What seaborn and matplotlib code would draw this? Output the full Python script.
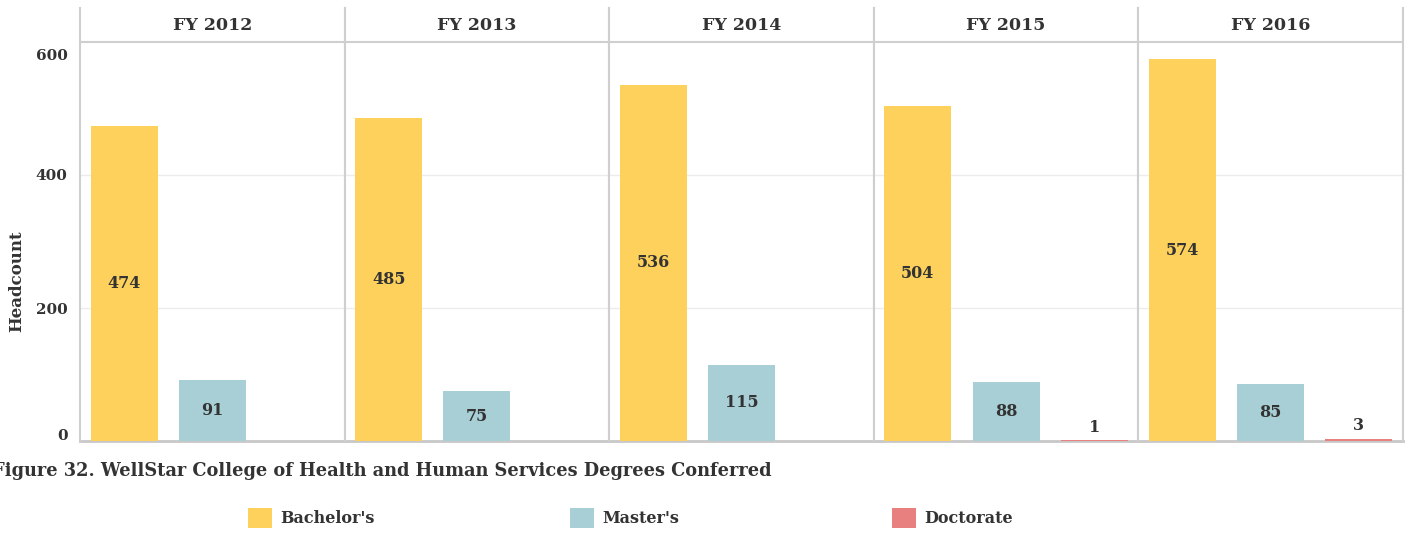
import numpy as np
import pandas as pd
import seaborn as sns
import matplotlib.pyplot as plt
import matplotlib.transforms as mtransforms
from matplotlib.patches import Patch

# Data
years = ["FY 2012", "FY 2013", "FY 2014", "FY 2015", "FY 2016"]
degrees = ["Bachelor's", "Master's", "Doctorate"]
bachelors = [474, 485, 536, 504, 574]
masters = [91, 75, 115, 88, 85]
doctorate = [0, 0, 0, 1, 3]
colors = {"Bachelor's": "#FDD15C", "Master's": "#A7CFD5", "Doctorate": "#E88080"}
title = "Figure 32. WellStar College of Health and Human Services Degrees Conferred"

rows = []
for i, fy in enumerate(years):
    for deg, vals in zip(degrees, [bachelors, masters, doctorate]):
        rows.append({"year": fy, "degree": deg, "count": vals[i]})
df = pd.DataFrame(rows)

sns.set_theme(style="white")
plt.rcParams["font.family"] = ["DejaVu Serif"]
plt.rcParams["font.weight"] = "bold"
txt = "#333333"
line_col = "#cfcfcf"

fig, axes = plt.subplots(1, 5, figsize=(14.11, 5.33), dpi=100, sharey=True,
                         gridspec_kw={"wspace": 0})
fig.subplots_adjust(left=80 / 1411, right=1403 / 1411, bottom=1 - 441 / 533, top=1 - 8 / 533)

ytop = 600 * 433 / 399
for i, (ax, fy) in enumerate(zip(axes, years)):
    sub = df[df["year"] == fy]
    sns.barplot(data=sub, x="degree", y="count", hue="degree", order=degrees,
                hue_order=degrees, palette=colors, width=0.76, legend=False,
                saturation=1, linewidth=0, ax=ax)
    for p in ax.patches:
        p.set_zorder(4)
    ax.set_ylim(0, ytop)
    ax.set_xlim(-0.5, 2.5)
    ax.set_xlabel("")
    ax.set_ylabel("")
    ax.set_xticks([])
    for y in [200, 400]:
        ax.axhline(y, color="#ececec", lw=1, zorder=0)
    ax.axhline(600, color=line_col, lw=1.5, zorder=3)
    ax.text(1, (600 + ytop) / 2, fy, ha="center", va="center", fontsize=12.5,
            fontweight="bold", color=txt)
    # value labels
    for j, v in enumerate(sub["count"]):
        if v == 0:
            continue
        yl = v / 2 if v >= 30 else v + 20
        ax.text(j, yl, str(v), ha="center", va="center", fontsize=11.5,
                fontweight="bold", color=txt, zorder=5)
    for s in ["left", "right"]:
        ax.spines[s].set_color(line_col)
        ax.spines[s].set_linewidth(1.5)
    ax.spines["top"].set_visible(False)
    ax.spines["bottom"].set_color("#c8c8c8")
    ax.spines["bottom"].set_linewidth(2)
    ax.spines["bottom"].set_zorder(2)
    ax.tick_params(axis="y", length=0, pad=9, labelsize=11, labelcolor=txt)

axes[0].set_yticks([0, 200, 400, 600])
for lab in axes[0].get_yticklabels():
    lab.set_fontweight("bold")
ticklabs = axes[0].yaxis.get_majorticklabels()
ticklabs[0].set_transform(ticklabs[0].get_transform() +
                          mtransforms.ScaledTranslation(0, 5 / 72, fig.dpi_scale_trans))
ticklabs[-1].set_transform(ticklabs[-1].get_transform() +
                           mtransforms.ScaledTranslation(0, -9 / 72, fig.dpi_scale_trans))
axes[0].set_ylabel("Headcount", fontsize=12, fontweight="bold", color=txt)
axes[0].yaxis.set_label_coords(-55 / 264.6, 0.37)

fig.text(-0.006, 1 - 471 / 533, title, ha="left", va="center", fontsize=12.8,
         fontweight="bold", color=txt)

# Legend entries
for k, deg in enumerate(degrees):
    h = [Patch(facecolor=colors[deg], edgecolor="none")]
    fig.legend(h, [deg], loc="center left",
               bbox_to_anchor=((248 + 322 * k) / 1411, 1 - 518 / 533),
               frameon=False, handlelength=1.5, handleheight=1.5, handletextpad=0.5,
               prop={"family": "DejaVu Serif", "weight": "bold", "size": 11.5},
               labelcolor=txt, borderaxespad=0, borderpad=0)

plt.savefig("out.png", dpi=100)
